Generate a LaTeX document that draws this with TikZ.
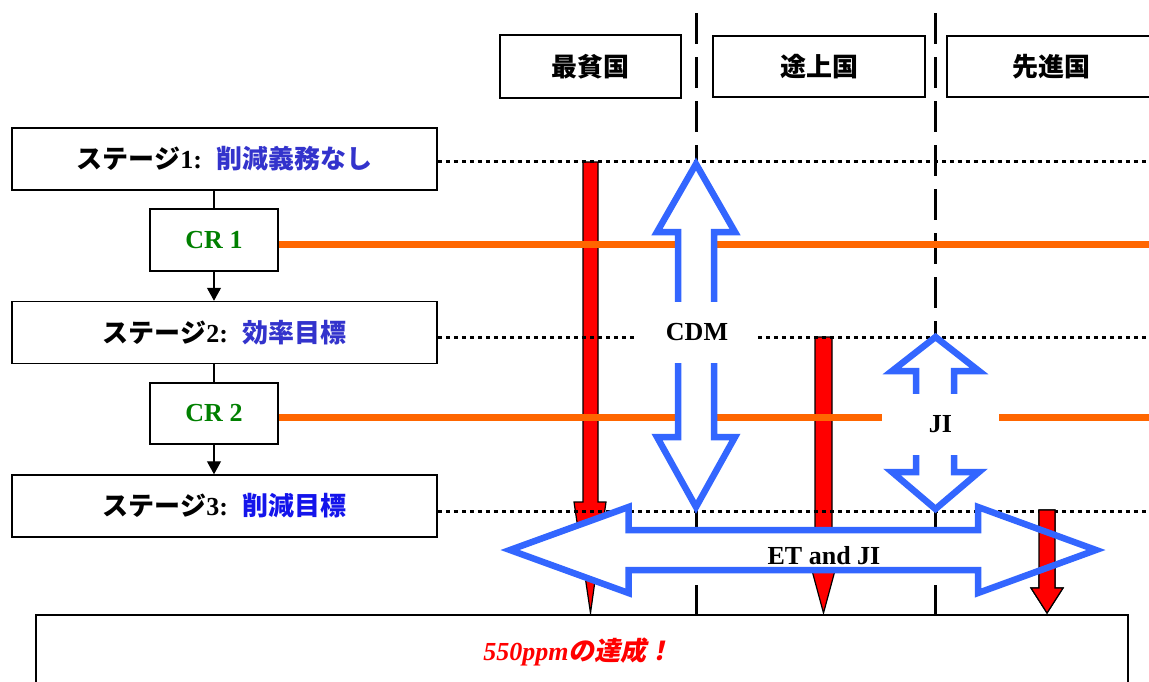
\documentclass[tikz,border=0pt]{standalone}
\usepackage{fontspec}
\setmainfont{Liberation Serif}
\newfontfamily\jp{Noto Sans CJK JP}
\newfontfamily\jpsl{Noto Sans CJK JP}[FakeSlant=0.2]
\usetikzlibrary{arrows.meta}
\definecolor{bluea}{RGB}{51,102,255}
\definecolor{corange}{RGB}{255,102,0}
\definecolor{crgreen}{RGB}{0,128,0}
\definecolor{stblue}{RGB}{51,51,204}
\definecolor{stbluec}{RGB}{20,20,235}
\begin{document}
\begin{tikzpicture}[x=1pt,y=-1pt,
  box/.style={draw=black, line width=1.5pt, fill=white, inner sep=0pt},
  lbl/.style={font=\fontsize{26}{30}\selectfont\bfseries},
  dotline/.style={line width=3pt, dash pattern=on 4pt off 4pt},
  dashline/.style={line width=3pt, dash pattern=on 31pt off 13pt},
  crline/.style={line width=7pt, draw=corange},
  redarrow/.style={fill=red, draw=black, line width=1.2pt, line join=miter},
  hollow/.style={draw=bluea, fill=white, line width=6.5pt, line join=miter},
  link/.style={line width=1.2pt},
  labelbg/.style={fill=white, inner sep=0pt, lbl},
]
\useasboundingbox (0,0) rectangle (1149,681);

% stage and CR boxes
\node[box, minimum width=425pt, minimum height=62pt, lbl] (s1) at (224.5,159)
  {\jp ステージ\rmfamily 1:\hspace{14pt}\color{stblue}\jp 削減義務なし};
\node[box, minimum width=425pt, minimum height=62pt, lbl] (s2) at (224.5,332.5)
  {\jp ステージ\rmfamily 2:\hspace{14pt}\color{stblue}\jp 効率目標};
\node[box, minimum width=425pt, minimum height=62pt, lbl] (s3) at (224.5,506)
  {\jp ステージ\rmfamily 3:\hspace{14pt}\color{stbluec}\jp 削減目標};
\node[box, minimum width=128pt, minimum height=62pt, lbl, text=crgreen] (cr1) at (214,240) {CR 1};
\node[box, minimum width=128pt, minimum height=61pt, lbl, text=crgreen] (cr2) at (214,413.5) {CR 2};

\draw[link] (cr1.north) -- (cr1.north |- s1.south);
\draw[link,-{Triangle[width=14pt,length=13pt]}] (cr1.south) -- (cr1.south |- s2.north);
\draw[link] (cr2.north) -- (cr2.north |- s2.south);
\draw[link,-{Triangle[width=14pt,length=13pt]}] (cr2.south) -- (cr2.south |- s3.north);

% red arrows (first pass)
\draw[redarrow] (583,162) -- (598,162) -- (598,502) -- (606,502) -- (590.5,613) -- (574,502) -- (583,502) -- cycle;
\draw[redarrow] (815,337) -- (832,337) -- (832,552) -- (840,552) -- (823.5,613) -- (807,552) -- (815,552) -- cycle;
\draw[redarrow] (1039,510) -- (1055,510) -- (1055,588) -- (1063,588) -- (1047,613) -- (1031,588) -- (1039,588) -- cycle;

% dashed column separators
\coordinate (d1top) at (696,13);
\coordinate (d1bot) at (696,614);
\coordinate (d2top) at (935,13);
\coordinate (d2bot) at (935,614);
\draw[dashline] (d1top) -- (d1bot);
\draw[dashline] (d2top) -- (d2bot);

% dotted stage lines
\draw[dotline] ([yshift=-2pt]s1.east) -- ++(712,0);
\draw[dotline] ([yshift=-4.5pt]s2.east) -- ++(712,0);
\draw[dotline] ([yshift=-5pt]s3.east) -- ++(712,0);

% orange CR lines
\draw[crline] ([yshift=-4pt]cr1.east) -- ++(880,0);
\draw[crline] ([yshift=-3.5pt]cr2.east) -- ++(880,0);

% CDM arrow
\draw[hollow] (696,164) -- (735,232) -- (714,232) -- (714,437) -- (735,437) -- (696,507)
  -- (657,437) -- (678,437) -- (678,232) -- (657,232) -- cycle;
\node[labelbg, minimum width=119pt, minimum height=61pt] (cdm) at (697,332.5) {\raisebox{-4.5pt}{CDM}};

% JI arrow
\draw[hollow] (935.5,337) -- (979,371) -- (954,371) -- (954,472) -- (979,472) -- (935.5,509)
  -- (892,472) -- (916,472) -- (916,371) -- (892,371) -- cycle;
\node[labelbg, minimum width=117pt, minimum height=61pt] (ji) at (940.5,424.5) {\raisebox{-5.5pt}{JI}};

% ET and JI arrow
\def\etpath{(510,550) -- (628.5,507) -- (628.5,530) -- (978,530) -- (978,507) -- (1096,550)
  -- (978,593) -- (978,570) -- (628.5,570) -- (628.5,593) -- cycle}
\fill[white] \etpath;
\draw[redarrow] (1039,510) -- (1055,510) -- (1055,588) -- (1063,588) -- (1047,613) -- (1031,588) -- (1039,588) -- cycle;
\draw[hollow, fill=none] \etpath;
\node[lbl, inner sep=0pt] (et) at (824,556) {ET and JI};

% header boxes
\node[box, minimum width=181pt, minimum height=63pt, lbl] (h1) at (590.5,66.5) {\jp 最貧国};
\node[box, minimum width=212pt, minimum height=61pt, lbl] (h2) at (819,66.5) {\jp 途上国};
\node[box, minimum width=208pt, minimum height=61pt, lbl] (h3) at (1051,66.5) {\jp 先進国};

% goal box
\node[box, minimum width=1092pt, minimum height=90pt, anchor=north west] (goal) at (35,614) {};
\node[lbl, text=red, inner sep=0pt] (goaltxt) at (578,652) {\itshape 550ppm\jpsl の達成！};
\end{tikzpicture}
\end{document}
